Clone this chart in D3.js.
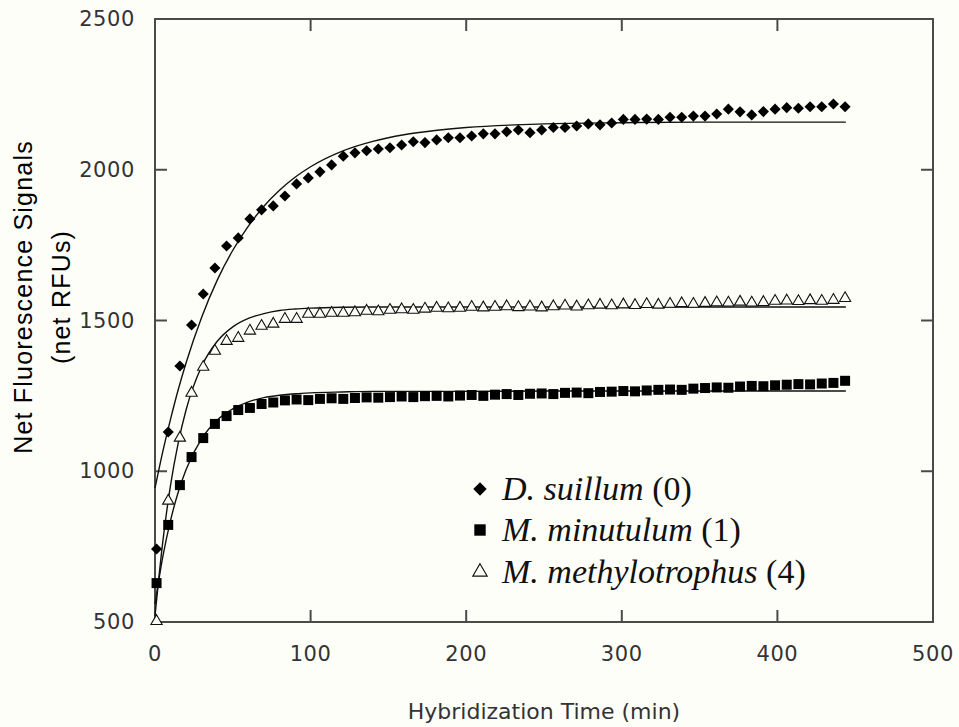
<!DOCTYPE html>
<html>
<head>
<meta charset="utf-8">
<script src="https://d3js.org/d3.v7.min.js"></script>
<style>
  body { margin: 0; background: #fefef9; }
  svg { display: block; }
</style>
</head>
<body>
<div id="chart"></div>
<script>
// sampling times (min), one reading every ~7.5 min
const times = d3.range(60).map(i => 1 + 7.5 * i);

const suillum = [742, 1130, 1349, 1485, 1588, 1674, 1747, 1774, 1837, 1867,
  1880, 1913, 1953, 1973, 1993, 2016, 2045, 2056, 2063, 2069,
  2073, 2082, 2093, 2090, 2099, 2106, 2106, 2112, 2119, 2119,
  2126, 2132, 2123, 2132, 2140, 2140, 2145, 2152, 2149, 2155,
  2167, 2167, 2168, 2167, 2174, 2174, 2178, 2178, 2185, 2201,
  2192, 2182, 2193, 2201, 2206, 2204, 2209, 2209, 2218, 2209];

const minutulum = [629, 822, 954, 1047, 1110, 1157, 1183, 1203, 1210, 1223,
  1228, 1235, 1238, 1236, 1240, 1242, 1240, 1243, 1245, 1244,
  1246, 1248, 1246, 1249, 1250, 1248, 1251, 1253, 1250, 1254,
  1256, 1253, 1257, 1258, 1256, 1260, 1261, 1259, 1263, 1264,
  1266, 1265, 1268, 1270, 1271, 1270, 1274, 1276, 1278, 1277,
  1281, 1283, 1282, 1285, 1287, 1289, 1288, 1291, 1293, 1300];

const methylo = [506, 905, 1114, 1263, 1349, 1402, 1435, 1445, 1469, 1485,
  1492, 1508, 1508, 1525, 1525, 1528, 1528, 1530, 1535, 1533,
  1538, 1540, 1538, 1542, 1545, 1543, 1545, 1548, 1546, 1548,
  1550, 1547, 1549, 1546, 1550, 1552, 1549, 1553, 1555, 1553,
  1556, 1554, 1557, 1555, 1558, 1560, 1558, 1561, 1563, 1562,
  1565, 1562, 1564, 1568, 1569, 1567, 1570, 1568, 1571, 1577];

// fitted curves
const fitTimes = [0, 5, 10, 15, 20, 30, 40, 50, 60, 70, 80, 90, 100, 120, 140, 160, 180, 200, 250, 300, 350, 400, 444];
const fitSuillum = [944, 1065, 1173, 1272, 1360, 1511, 1634, 1733, 1813, 1879, 1932, 1975, 2010, 2061, 2094, 2116, 2130, 2140, 2152, 2156, 2158, 2158, 2158];
const fitMinutulum = [560, 716, 837, 932, 1006, 1108, 1170, 1207, 1230, 1244, 1252, 1257, 1260, 1263, 1265, 1265, 1265, 1265, 1266, 1266, 1266, 1266, 1266];
const fitMethylo = [520, 766, 954, 1096, 1204, 1348, 1431, 1479, 1507, 1523, 1533, 1538, 1541, 1544, 1545, 1545, 1545, 1545, 1545, 1545, 1545, 1545, 1545];

const xTicks = [0, 100, 200, 300, 400, 500];
const yTicks = [500, 1000, 1500, 2000, 2500];

const legendNames = ["D. suillum", "M. minutulum", "M. methylotrophus"];
const legendTags = ["(0)", "(1)", "(4)"];

const W = 959, H = 727;
const m = { left: 155, right: 933, top: 19, bottom: 622 };

const svg = d3.select("#chart").append("svg")
  .attr("width", W).attr("height", H)
  .style("background", "#fefef9");

const x = d3.scaleLinear().domain([0, 500]).range([m.left, m.right]);
const y = d3.scaleLinear().domain([500, 2500]).range([m.bottom, m.top]);

const axisColor = "#4a4a4a";
const labelFont = "DejaVu Sans, Verdana, sans-serif";

// frame
svg.append("rect")
  .attr("x", m.left).attr("y", m.top)
  .attr("width", m.right - m.left).attr("height", m.bottom - m.top)
  .attr("fill", "none").attr("stroke", axisColor).attr("stroke-width", 2);

// inward ticks on every side
const tickLen = 12;
const innerX = xTicks.slice(1, -1);
const innerY = yTicks.slice(1, -1);
svg.append("g").selectAll("line").data(innerX).join("line")
  .attr("x1", d => x(d)).attr("x2", d => x(d))
  .attr("y1", m.bottom).attr("y2", m.bottom - tickLen)
  .attr("stroke", axisColor).attr("stroke-width", 2);
svg.append("g").selectAll("line").data(innerX).join("line")
  .attr("x1", d => x(d)).attr("x2", d => x(d))
  .attr("y1", m.top).attr("y2", m.top + tickLen)
  .attr("stroke", axisColor).attr("stroke-width", 2);
svg.append("g").selectAll("line").data(innerY).join("line")
  .attr("x1", m.left).attr("x2", m.left + tickLen)
  .attr("y1", d => y(d)).attr("y2", d => y(d))
  .attr("stroke", axisColor).attr("stroke-width", 2);
svg.append("g").selectAll("line").data(innerY).join("line")
  .attr("x1", m.right).attr("x2", m.right - tickLen)
  .attr("y1", d => y(d)).attr("y2", d => y(d))
  .attr("stroke", axisColor).attr("stroke-width", 2);

// tick labels
svg.append("g").selectAll("text").data(xTicks).join("text")
  .attr("x", d => x(d)).attr("y", 661)
  .attr("text-anchor", "middle")
  .attr("font-family", labelFont).attr("font-size", 21).attr("letter-spacing", 0.6)
  .attr("fill", "#333")
  .text(d => d);
svg.append("g").selectAll("text").data(yTicks).join("text")
  .attr("x", 135).attr("y", d => y(d) + 7)
  .attr("text-anchor", "end")
  .attr("font-family", labelFont).attr("font-size", 21).attr("letter-spacing", 0.6)
  .attr("fill", "#333")
  .text(d => d);

// axis titles
svg.append("text")
  .attr("x", (m.left + m.right) / 2).attr("y", 719)
  .attr("text-anchor", "middle")
  .attr("font-family", labelFont).attr("font-size", 22)
  .attr("fill", "#333")
  .text("Hybridization Time (min)");

const yt = svg.append("text")
  .attr("transform", "translate(24,297) rotate(-90)")
  .attr("text-anchor", "middle")
  .attr("font-family", "Liberation Sans, Arial, sans-serif")
  .attr("font-size", 25).attr("letter-spacing", 1.2)
  .attr("fill", "#000");
yt.append("tspan").attr("x", 0).attr("dy", 8).text("Net Fluorescence Signals");
yt.append("tspan").attr("x", 0).attr("dy", 38).text("(net RFUs)");

// fit lines
const line = d3.line().x(d => x(d[0])).y(d => y(d[1])).curve(d3.curveMonotoneX);
[fitSuillum, fitMinutulum, fitMethylo].forEach(f => {
  svg.append("path")
    .datum(fitTimes.map((t, i) => [t, f[i]]))
    .attr("d", line)
    .attr("fill", "none").attr("stroke", "#111").attr("stroke-width", 1.4);
});

// markers (diamond = square turned 45deg)
const diamond = d3.symbol().type(d3.symbolSquare).size(62);
const square = d3.symbol().type(d3.symbolSquare).size(100);
const triangle = d3.symbol().type(d3.symbolTriangle).size(55);

svg.append("g").selectAll("path").data(methylo).join("path")
  .attr("transform", (d, i) => `translate(${x(times[i])},${y(d) + 1})`)
  .attr("d", triangle)
  .attr("fill", "#fefef9").attr("stroke", "#111").attr("stroke-width", 1.1);
svg.append("g").selectAll("path").data(minutulum).join("path")
  .attr("transform", (d, i) => `translate(${x(times[i])},${y(d)})`)
  .attr("d", square).attr("fill", "#000");
svg.append("g").selectAll("path").data(suillum).join("path")
  .attr("transform", (d, i) => `translate(${x(times[i])},${y(d)}) rotate(45)`)
  .attr("d", diamond).attr("fill", "#000");

// legend
const legY = [489, 530, 572];
const legSym = [
  d3.symbol().type(d3.symbolSquare).size(90),
  d3.symbol().type(d3.symbolSquare).size(130),
  d3.symbol().type(d3.symbolTriangle).size(90)
];
legendNames.forEach((n, i) => {
  svg.append("path")
    .attr("transform", `translate(480,${legY[i]})` + (i === 0 ? " rotate(45)" : ""))
    .attr("d", legSym[i]())
    .attr("fill", i === 2 ? "#fefef9" : "#000")
    .attr("stroke", i === 2 ? "#111" : "none").attr("stroke-width", 1.1);
  const t = svg.append("text")
    .attr("x", 502).attr("y", legY[i] + 11)
    .attr("font-family", "Liberation Serif, Times New Roman, serif")
    .attr("font-size", 34).attr("fill", "#111");
  t.append("tspan").attr("font-style", "italic").text(n);
  t.append("tspan").text(" " + legendTags[i]);
});
</script>
</body>
</html>
